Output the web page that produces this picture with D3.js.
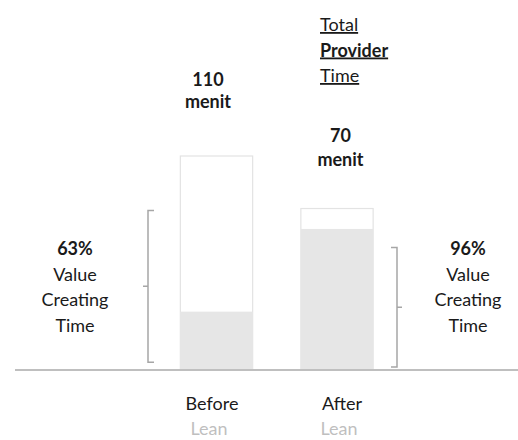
<!DOCTYPE html>
<html lang="en">
<head>
  <meta charset="utf-8">
  <title>Total Provider Time</title>
  <script src="https://cdnjs.cloudflare.com/ajax/libs/d3/7.8.5/d3.min.js"></script>
  <style>
    body { margin: 0; background: #fff; }
    svg text { font-family: Lato, "Open Sans", sans-serif; font-size: 18px; fill: #1a1a1a; }
  </style>
</head>
<body>
<svg id="chart" width="518" height="440"></svg>
<script>
// bar categories and values (minutes, as drawn)
var categories = ["Before", "After"];
var subLabels = ["Lean", "Lean"];
var totalTime = [110, 83];
var valueTime = [30, 72.5];
var totalLabels = ["110", "70"];
var pctLabels = ["63%", "96%"];
// bracket spans in minutes [low, high]
var bracketSpans = [[4, 82], [1.5, 63]];
var titleLines = ["Total", "Provider", "Time"];

var svg = d3.select("#chart");

var x = d3.scaleBand()
    .domain(categories)
    .range([156.25, 397.25])
    .paddingInner(0.4)
    .paddingOuter(0.2);

var y = d3.scaleLinear()
    .domain([0, 110])
    .range([370, 156]);

var data = categories.map((c, i) => ({
  cat: c, sub: subLabels[i], total: totalTime[i], value: valueTime[i],
  label: totalLabels[i], pct: pctLabels[i], span: bracketSpans[i]
}));

// total bars (white with light outline)
svg.selectAll(".total").data(data).enter().append("rect")
    .attr("class", "total")
    .attr("x", d => x(d.cat))
    .attr("y", d => y(d.total))
    .attr("width", x.bandwidth())
    .attr("height", d => y(0) - y(d.total))
    .attr("fill", "#fff")
    .attr("stroke", "#e3e3e3")
    .attr("stroke-width", 1.2);

// value creating part
svg.selectAll(".value").data(data).enter().append("rect")
    .attr("class", "value")
    .attr("x", d => x(d.cat))
    .attr("y", d => y(d.value))
    .attr("width", x.bandwidth())
    .attr("height", d => y(0) - y(d.value))
    .attr("fill", "#e6e6e6");

// baseline
svg.append("line")
    .attr("x1", 15).attr("x2", 518)
    .attr("y1", y(0)).attr("y2", y(0))
    .attr("stroke", "#bfbfbf")
    .attr("stroke-width", 2);

// brackets: left one opens right, right one opens left
var bx = [148, 397], dir = [1, -1];
data.forEach(function(d, i) {
  var y1 = y(d.span[1]), y2 = y(d.span[0]), xm = bx[i], s = dir[i];
  var p = d3.path();
  p.moveTo(xm + 6 * s, y1); p.lineTo(xm, y1); p.lineTo(xm, y2); p.lineTo(xm + 6 * s, y2);
  p.moveTo(xm, (y1 + y2) / 2); p.lineTo(xm - 5 * s, (y1 + y2) / 2);
  svg.append("path")
      .attr("d", p.toString())
      .attr("fill", "none")
      .attr("stroke", "#a6a6a6")
      .attr("stroke-width", 1.5);
});

// total labels above bars
var topOff = [-8.5, 3.5];
data.forEach(function(d, i) {
  var cx = x(d.cat) + x.bandwidth() / 2 + topOff[i];
  var by = y(d.total) - 70 + (i ? 3 : 0);
  svg.append("text").attr("x", cx).attr("y", by)
      .attr("text-anchor", "middle").attr("font-weight", "bold").text(d.label);
  svg.append("text").attr("x", cx).attr("y", by + (i ? 24 : 22))
      .attr("text-anchor", "middle").attr("font-weight", "bold").text("menit");
});

// percent labels beside brackets
var pctX = [75, 468];
data.forEach(function(d, i) {
  var lines = [d.pct, "Value", "Creating", "Time"];
  lines.forEach(function(t, j) {
    svg.append("text").attr("x", pctX[i]).attr("y", 255 + j * 25.7)
        .attr("text-anchor", "middle")
        .attr("font-weight", j === 0 ? "bold" : "normal")
        .text(t);
  });
});

// category labels under axis
var catOff = [-4.5, 5];
data.forEach(function(d, i) {
  var cx = x(d.cat) + x.bandwidth() / 2 + catOff[i];
  svg.append("text").attr("x", cx).attr("y", 410)
      .attr("text-anchor", "middle").text(d.cat);
  svg.append("text").attr("x", cx - 3).attr("y", 435)
      .attr("text-anchor", "middle").style("fill", "#bfbfbf").text(d.sub);
});

// title, underlined
titleLines.forEach(function(t, j) {
  svg.append("text").attr("x", 320).attr("y", 31 + j * 25.5)
      .attr("font-weight", j === 1 ? "bold" : "normal")
      .style("text-decoration", "underline")
      .text(t);
});
</script>
</body>
</html>
